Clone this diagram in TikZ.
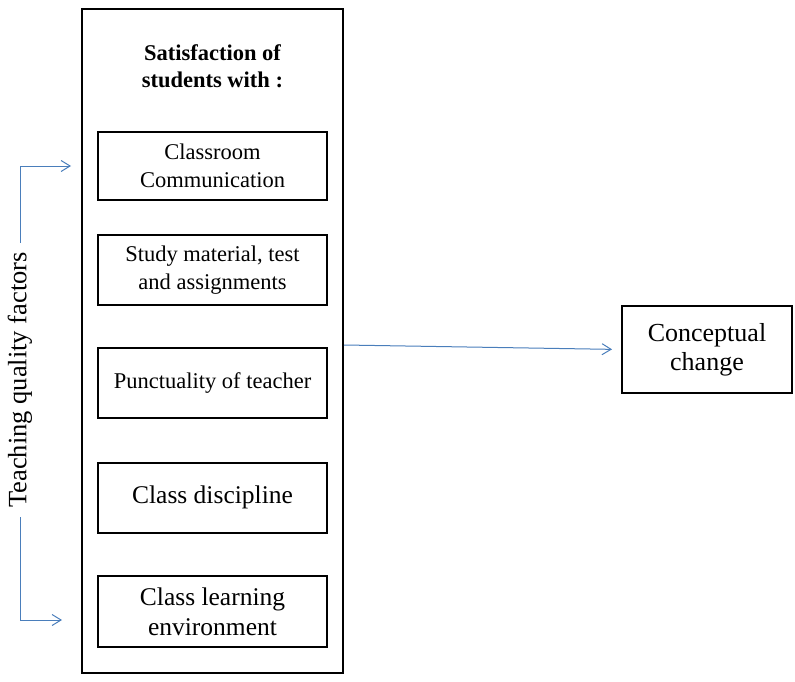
\documentclass[tikz,border=0pt]{standalone}
\usepackage{fontspec}
\setmainfont{Liberation Serif}
\usetikzlibrary{arrows.meta}
\definecolor{arrblue}{HTML}{4A7EBB}
\tikzset{
  box/.style={draw=black, line width=2pt, minimum width=229pt, align=center, inner sep=0pt},
  outerbox/.style={draw=black, line width=2pt, inner sep=0pt},
  arr/.style={draw=arrblue, line width=1pt, -{Straight Barb[length=9pt,width=11pt,line width=1pt]}},
  smalltxt/.style={font=\fontsize{22.5}{28}\selectfont},
  bigtxt/.style={font=\fontsize{25.5}{30}\selectfont}
}
\begin{document}
\begin{tikzpicture}[x=1pt,y=-1pt]
\useasboundingbox (0,0) rectangle (795,682);
\node[outerbox, minimum width=261pt, minimum height=664pt] (outer) at (212.5,341) {};
\node[align=center, font=\fontsize{22.5}{27}\selectfont\bfseries] (title) at (212.5,66) {Satisfaction of\\students with :};
\node[box, minimum height=68pt, smalltxt] (b1) at (212.5,166) {Classroom\\Communication};
\node[box, minimum height=70pt, smalltxt] (b2) at (212.5,270) {Study material, test\\and assignments};
\node[box, minimum height=70pt, smalltxt] (b3) at (212.5,383) {Punctuality of teacher};
\node[box, minimum height=70pt, bigtxt] (b4) at (212.5,497.5) {Class discipline};
\node[box, minimum height=71pt, bigtxt] (b5) at (212.5,611.5) {Class learning\\environment};
\node[draw=black, line width=2pt, minimum width=170pt, minimum height=87pt, align=center, inner sep=0pt, font=\fontsize{26}{29}\selectfont] (cc) at (707,349.5) {Conceptual\\change};
\node[rotate=90, inner xsep=9pt, inner ysep=0pt, font=\fontsize{26.5}{30}\selectfont] (tqf) at (20,380) {Teaching quality factors};
\draw[arr] (tqf.east) |- ([xshift=-26pt]b1.west);
\draw[arr] (tqf.west) |- ([xshift=-35pt,yshift=-8.5pt]b5.west);
\draw[arr, shorten >=9pt] ([yshift=-4pt]outer.east) -- (cc.west);
\end{tikzpicture}
\end{document}
